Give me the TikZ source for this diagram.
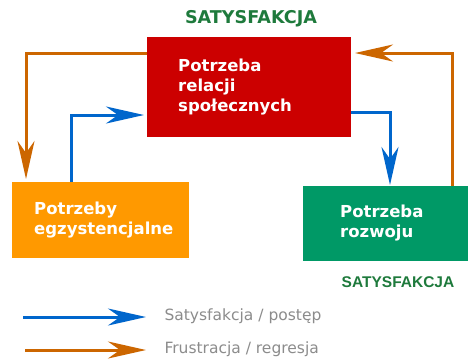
\documentclass[tikz,border=0pt]{standalone}
\usepackage{fontspec}
\setmainfont{DejaVu Sans}
\newfontfamily\arialfont{Liberation Sans}
\usetikzlibrary{arrows.meta}
\definecolor{redbox}{HTML}{CC0000}
\definecolor{orangebox}{HTML}{FF9900}
\definecolor{greenbox}{HTML}{009966}
\definecolor{titlegreen}{HTML}{1E7A3C}
\definecolor{arrblue}{HTML}{0066CC}
\definecolor{arrorange}{HTML}{CC6600}
\definecolor{legendgray}{HTML}{8C8C8C}
\begin{document}
\begin{tikzpicture}[x=1pt,y=-1pt,
  needbox/.style={rectangle, inner sep=0pt, anchor=north west, text=white,
    font=\fontsize{16.5}{20}\selectfont\bfseries, align=left},
  flow/.style={line width=3pt, -{Stealth[length=38pt,width=17pt,inset=12pt]}},
  blueflow/.style={flow, draw=arrblue},
  orangeflow/.style={flow, draw=arrorange},
  title/.style={text=titlegreen},
  legendtext/.style={anchor=west, text=legendgray, font=\fontsize{15.5}{18}\selectfont}
]
\useasboundingbox (0,0) rectangle (468,360);
\fill[white] (0,0) rectangle (468,360);

\node[needbox, fill=redbox, minimum width=204pt, minimum height=100pt, text width=142pt,
  inner xsep=31pt] (rel) at (147,37)
  {\raisebox{5pt}{\begin{tabular}{@{}l@{}}Potrzeba\\relacji\\społecznych\end{tabular}}};
\node[needbox, fill=orangebox, minimum width=177pt, minimum height=76pt, text width=133pt,
  inner xsep=22pt] (egz) at (12,182)
  {Potrzeby\\egzystencjalne};
\node[needbox, fill=greenbox, minimum width=166pt, minimum height=75pt, text width=92pt,
  inner xsep=37pt] (roz) at (303,186)
  {\raisebox{3pt}{\begin{tabular}{@{}l@{}}Potrzeba\\rozwoju\end{tabular}}};

\node[title, font=\bfseries\fontsize{17.6}{21}\selectfont] (sat1) at (251,18.5) {SATYSFAKCJA};
\node[title, font=\arialfont\bfseries\fontsize{15.5}{18}\selectfont] (sat2) at (398,282.5) {SATYSFAKCJA};

% frustration / regression
\coordinate (o1a) at (147,53);
\coordinate (o1b) at (26,53);
\coordinate (o1c) at (26,179);
\draw[orangeflow] (o1a) -- (o1b) -- (o1c);
\coordinate (o2a) at (452,186);
\coordinate (o2b) at (452,53);
\coordinate (o2c) at (355,53);
\draw[orangeflow] (o2a) -- (o2b) -- (o2c);

% satisfaction / progress
\coordinate (b1a) at (71,182);
\coordinate (b1b) at (71,115);
\coordinate (b1c) at (144,115);
\draw[blueflow] (b1a) -- (b1b) -- (b1c);
\coordinate (b2a) at (351,112);
\coordinate (b2b) at (390,112);
\coordinate (b2c) at (390,185);
\draw[blueflow] (b2a) -- (b2b) -- (b2c);

% legend
\coordinate (lb1) at (23,317);
\coordinate (lb2) at (146,317);
\draw[blueflow] (lb1) -- (lb2);
\node[legendtext] (lbt) at (161,316) {Satysfakcja / postęp};
\coordinate (lo1) at (25,350);
\coordinate (lo2) at (146,350);
\draw[orangeflow] (lo1) -- (lo2);
\node[legendtext] (lot) at (161,349) {Frustracja / regresja};
\end{tikzpicture}
\end{document}
